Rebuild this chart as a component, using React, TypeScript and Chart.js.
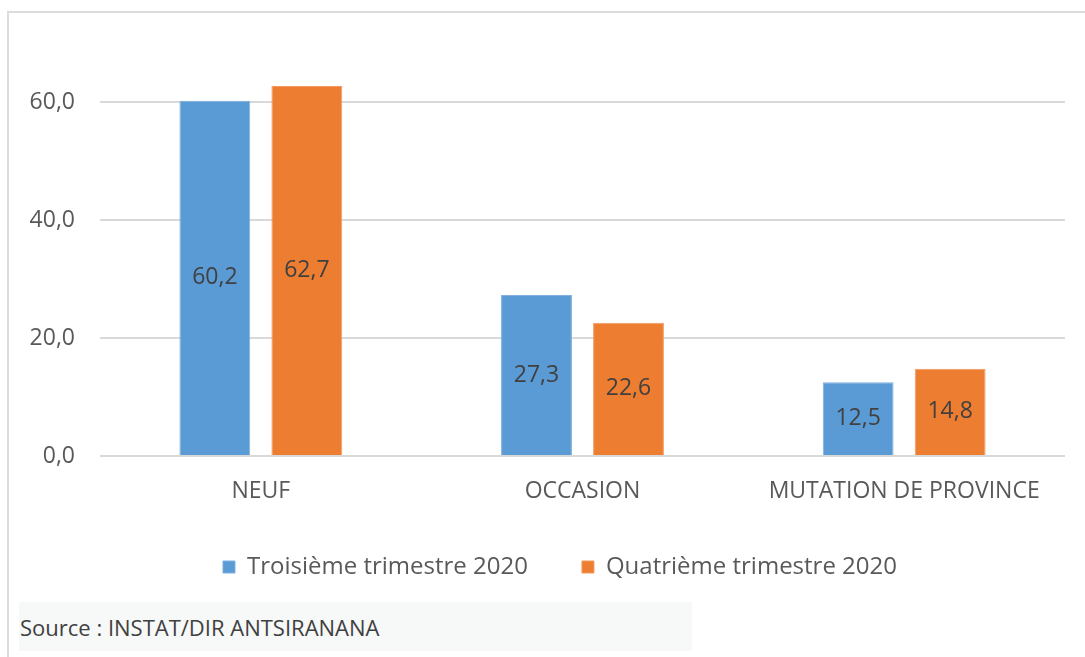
import React, { useEffect, useRef } from "react";
import { Chart, registerables } from "chart.js";

Chart.register(...registerables);

const categories = ["NEUF", "OCCASION", "MUTATION DE PROVINCE"];
const seriesNames = ["Troisième trimestre 2020", "Quatrième trimestre 2020"];
const q3Values = [60.2, 27.3, 12.5];
const q4Values = [62.7, 22.6, 14.8];
const yTickValues = [0, 20, 40, 60];

const FONT = "'Open Sans', 'Noto Sans', sans-serif";
const fmt = (v: number) => v.toFixed(1).replace(".", ",");

const barLabels = {
  id: "barLabels",
  afterDatasetsDraw(chart: any) {
    const ctx = chart.ctx;
    ctx.save();
    ctx.font = `23px ${FONT}`;
    ctx.fillStyle = "#404040";
    ctx.textAlign = "center";
    ctx.textBaseline = "middle";
    chart.data.datasets.forEach((ds: any, di: number) => {
      const meta = chart.getDatasetMeta(di);
      meta.data.forEach((el: any, i: number) => {
        const y = (el.y + el.base) / 2;
        ctx.fillText(fmt(ds.data[i]), el.x, y);
      });
    });
    ctx.restore();
  },
};

const shiftLegend = {
  id: "shiftLegend",
  afterLayout(chart: any) {
    const l = chart.legend;
    if (l) {
      l.left += 23;
      l.right += 23;
    }
  },
};

export default function App() {
  const ref = useRef<HTMLCanvasElement>(null);
  useEffect(() => {
    if (!ref.current) return;
    const chart = new Chart(ref.current, {
      type: "bar",
      data: {
        labels: categories,
        datasets: [
          {
            label: seriesNames[0],
            data: q3Values,
            backgroundColor: "#5B9BD5",
            borderColor: "#7fb0de",
            borderWidth: 1,
            categoryPercentage: 0.572,
            barPercentage: 0.77,
          },
          {
            label: seriesNames[1],
            data: q4Values,
            backgroundColor: "#ED7D31",
            borderColor: "#f19a5f",
            borderWidth: 1,
            categoryPercentage: 0.572,
            barPercentage: 0.77,
          },
        ],
      },
      options: {
        animation: false,
        responsive: false,
        layout: { padding: { top: 30, right: 20, left: 0, bottom: 0 } },
        plugins: {
          tooltip: { enabled: false },
          legend: {
            position: "bottom",
            labels: {
              boxWidth: 12,
              boxHeight: 12,
              padding: 54,
              color: "#595959",
              font: { family: FONT, size: 24 },
            },
          },
        },
        scales: {
          x: {
            grid: { display: false, drawTicks: false },
            border: { display: false },
            ticks: {
              color: "#595959",
              font: { family: FONT, size: 23 },
              padding: 22,
              maxRotation: 0,
            },
            afterFit(scale: any) {
              scale.height = 45;
            },
          },
          y: {
            min: 0,
            max: 70,
            afterBuildTicks(scale: any) {
              scale.ticks = yTickValues.map((v) => ({ value: v }));
            },
            grid: {
              color: "#d9d9d9",
              lineWidth: 2,
              drawTicks: true,
              tickLength: 25,
              tickColor: "rgba(0,0,0,0)",
            },
            border: { display: false },
            ticks: {
              color: "#595959",
              font: { family: FONT, size: 23 },
              padding: 0,
              callback: (v: any) => fmt(Number(v)),
            },
            afterFit(scale: any) {
              scale.width = 91;
            },
          },
        },
      },
      plugins: [barLabels, shiftLegend],
    });
    return () => chart.destroy();
  }, []);

  return (
    <div
      style={{
        position: "fixed",
        left: 0,
        top: 0,
        width: 1085,
        height: 657,
        overflow: "hidden",
        background: "#fff",
      }}
    >
      <div
        style={{
          position: "absolute",
          left: 7,
          top: 11,
          width: 1100,
          height: 700,
          border: "2px solid #dcdcdc",
          boxSizing: "border-box",
        }}
      />
      <canvas
        ref={ref}
        width={1076}
        height={576}
        style={{ position: "absolute", left: 9, top: 13, width: 1076, height: 576 }}
      />
      <div
        style={{
          position: "absolute",
          left: 19,
          top: 602,
          width: 673,
          height: 49,
          background: "#f7f8f8",
        }}
      />
      <div
        style={{
          position: "absolute",
          left: 20,
          top: 612,
          fontFamily: FONT,
          fontSize: 22,
          color: "#404040",
          lineHeight: "30px",
          whiteSpace: "nowrap",
        }}
      >
        Source : INSTAT/DIR ANTSIRANANA
      </div>
    </div>
  );
}
